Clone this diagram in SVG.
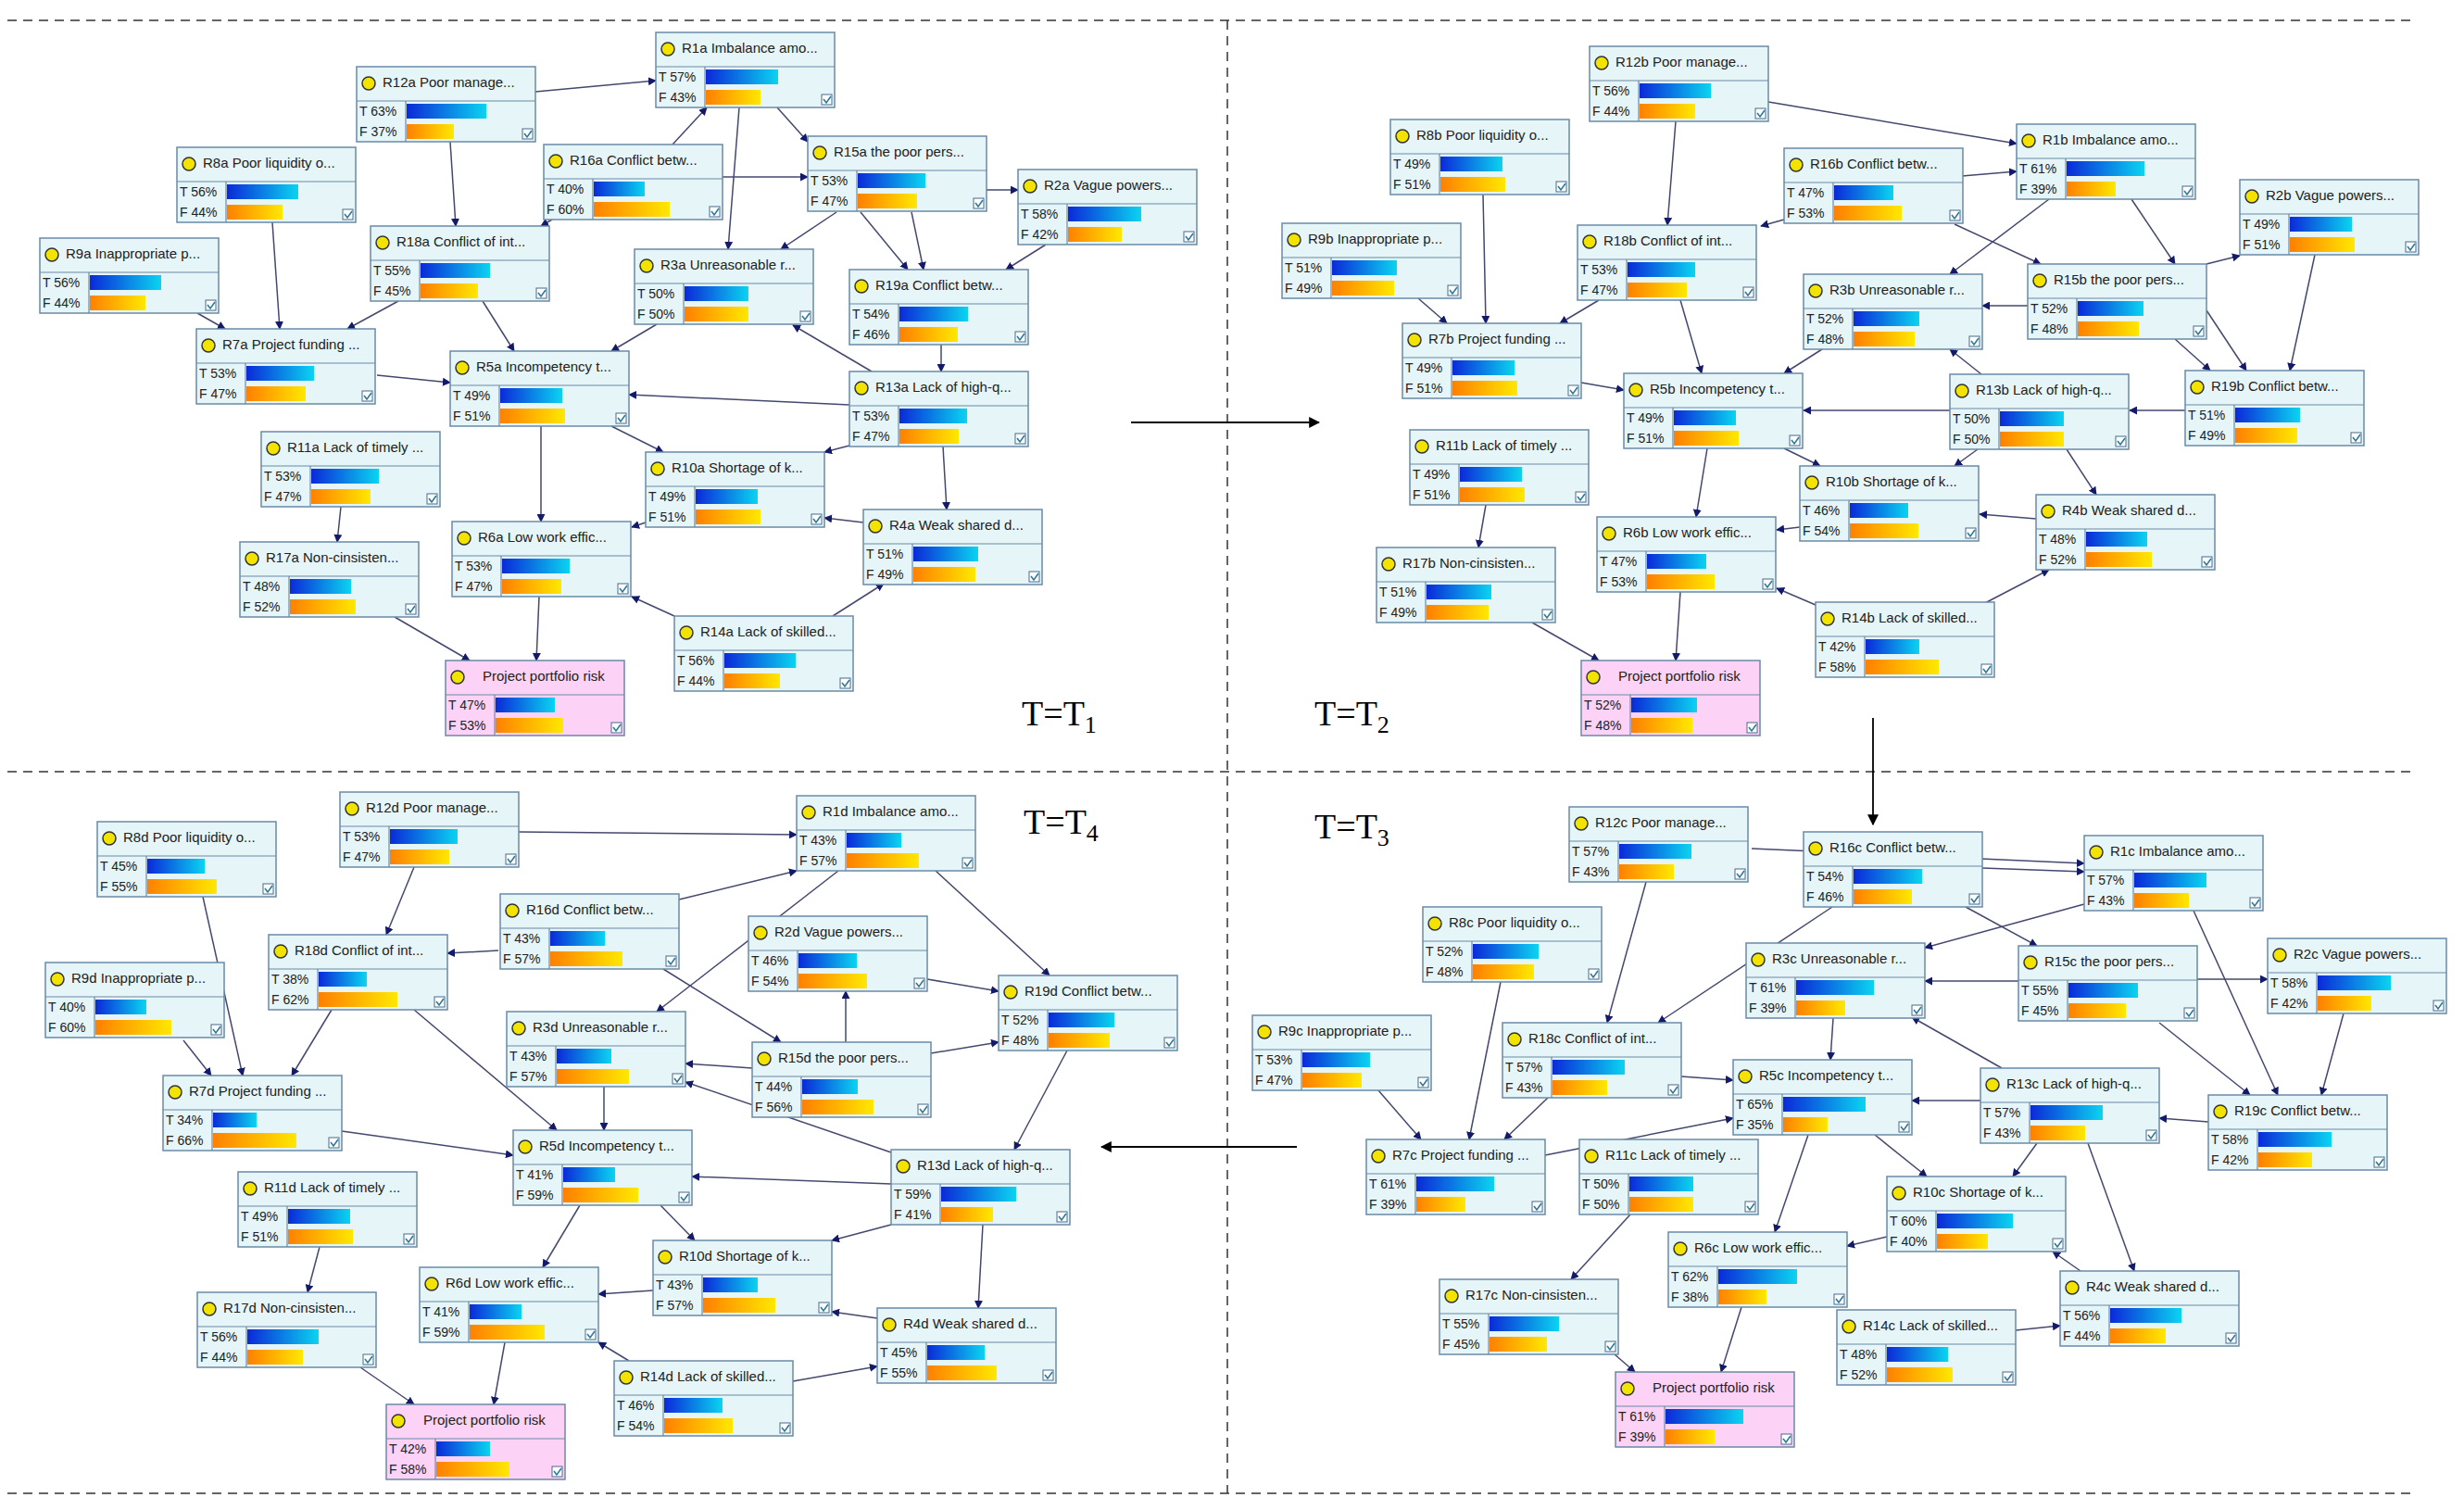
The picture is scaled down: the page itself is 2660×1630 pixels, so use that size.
<svg xmlns="http://www.w3.org/2000/svg" xmlns:xlink="http://www.w3.org/1999/xlink" width="2660" height="1630" viewBox="0 0 2660 1630">
<style>
.box{fill:#e6f5f8;stroke:#6a8aa6;stroke-width:1.5}
.pbox{fill:#fcd2f6;stroke:#6a8aa6;stroke-width:1.5}
.dv{stroke:#6a8aa6;stroke-width:1.2}
.bulb{fill:#f2e400;stroke:#333;stroke-width:1.5}
.ck{fill:#fff;stroke:#4a6a8a;stroke-width:1}
.ckm{fill:none;stroke:#2a7a9a;stroke-width:1.6}
.t{font-family:"Liberation Sans",Arial,sans-serif;font-size:15px;fill:#222}
.v{font-family:"Liberation Sans",Arial,sans-serif;font-size:14px;fill:#222}
.bt{fill:url(#gb)}
.bf{fill:url(#go)}
.e{stroke:#44486e;stroke-width:1.5;fill:none;marker-end:url(#ah)}
.big{stroke:#000;stroke-width:1.8;fill:none;marker-end:url(#ah2)}
.dash{stroke:#333;stroke-width:1.5;stroke-dasharray:10 7;fill:none}
.lab{font-family:"Liberation Serif","Times New Roman",serif;font-size:38px;fill:#000}
</style>
<defs>
<linearGradient id="gb" x1="0" y1="0" x2="1" y2="0"><stop offset="0" stop-color="#0a2ad8"/><stop offset="1" stop-color="#0ad4f0"/></linearGradient>
<linearGradient id="go" x1="0" y1="0" x2="1" y2="0"><stop offset="0" stop-color="#ff8000"/><stop offset="1" stop-color="#ffe800"/></linearGradient>
<marker id="ah" viewBox="0 0 10 10" refX="9" refY="5" markerWidth="9" markerHeight="9" markerUnits="userSpaceOnUse" orient="auto"><path d="M0 0 L10 5 L0 10 z" fill="#141a6a"/></marker>
<marker id="ah2" viewBox="0 0 10 10" refX="9" refY="5" markerWidth="12" markerHeight="12" markerUnits="userSpaceOnUse" orient="auto"><path d="M0 0 L10 5 L0 10 z" fill="#000"/></marker>
<g id="frame"><rect class="box" width="193" height="81"/><line class="dv" x1="0" y1="37" x2="193" y2="37"/><line class="dv" x1="53" y1="37" x2="53" y2="81"/><circle class="bulb" cx="13" cy="18" r="7"/><rect class="ck" x="179" y="67" width="11" height="11"/><path class="ckm" d="M181 72 l3 4 l5 -7"/></g>
<g id="pframe"><rect class="pbox" width="193" height="81"/><line class="dv" x1="0" y1="37" x2="193" y2="37"/><line class="dv" x1="53" y1="37" x2="53" y2="81"/><circle class="bulb" cx="13" cy="18" r="7"/><rect class="ck" x="179" y="67" width="11" height="11"/><path class="ckm" d="M181 72 l3 4 l5 -7"/></g>
</defs>
<rect width="2660" height="1630" fill="#fff"/>
<g id="frames">
<line class="dash" x1="8" y1="22" x2="2605" y2="22"/>
<line class="dash" x1="8" y1="833" x2="2605" y2="833"/>
<line class="dash" x1="8" y1="1612" x2="2605" y2="1612"/>
<line class="dash" x1="1325" y1="22" x2="1325" y2="1612"/>
<text class="lab" x="1103" y="783">T=T<tspan font-size="26" dy="8">1</tspan></text>
<text class="lab" x="1419" y="783">T=T<tspan font-size="26" dy="8">2</tspan></text>
<text class="lab" x="1419" y="905">T=T<tspan font-size="26" dy="8">3</tspan></text>
<text class="lab" x="1105" y="900">T=T<tspan font-size="26" dy="8">4</tspan></text>
</g>
<g id="connectors">
<line class="big" x1="1221" y1="456" x2="1424" y2="456"/>
<line class="big" x1="2022" y1="775" x2="2022" y2="890"/>
<line class="big" x1="1400" y1="1238" x2="1189" y2="1238"/>
<!-- Q1 -->
<line class="e" x1="578" y1="99" x2="708" y2="87"/>
<line class="e" x1="726" y1="156" x2="763" y2="116"/>
<line class="e" x1="798" y1="116" x2="786" y2="269"/>
<line class="e" x1="839" y1="116" x2="872" y2="153"/>
<line class="e" x1="780" y1="191" x2="872" y2="191"/>
<line class="e" x1="1065" y1="205" x2="1099" y2="205"/>
<line class="e" x1="903" y1="229" x2="843" y2="269"/>
<line class="e" x1="929" y1="229" x2="980" y2="291"/>
<line class="e" x1="984" y1="229" x2="997" y2="291"/>
<line class="e" x1="1129" y1="264" x2="1086" y2="291"/>
<line class="e" x1="486" y1="153" x2="492" y2="244"/>
<line class="e" x1="596" y1="237" x2="584" y2="244"/>
<line class="e" x1="294" y1="240" x2="302" y2="355"/>
<line class="e" x1="213" y1="338" x2="243" y2="355"/>
<line class="e" x1="430" y1="325" x2="375" y2="355"/>
<line class="e" x1="521" y1="325" x2="555" y2="379"/>
<line class="e" x1="709" y1="350" x2="660" y2="379"/>
<line class="e" x1="407" y1="405" x2="486" y2="413"/>
<line class="e" x1="1016" y1="372" x2="1016" y2="401"/>
<line class="e" x1="941" y1="401" x2="856" y2="351"/>
<line class="e" x1="917" y1="437" x2="679" y2="426"/>
<line class="e" x1="917" y1="481" x2="890" y2="488"/>
<line class="e" x1="1018" y1="482" x2="1022" y2="550"/>
<line class="e" x1="660" y1="460" x2="716" y2="488"/>
<line class="e" x1="584" y1="460" x2="584" y2="563"/>
<line class="e" x1="932" y1="564" x2="890" y2="559"/>
<line class="e" x1="697" y1="564" x2="682" y2="569"/>
<line class="e" x1="368" y1="547" x2="364" y2="585"/>
<line class="e" x1="728" y1="665" x2="682" y2="644"/>
<line class="e" x1="899" y1="665" x2="954" y2="630"/>
<line class="e" x1="582" y1="644" x2="579" y2="713"/>
<line class="e" x1="426" y1="666" x2="507" y2="713"/>
<!-- Q2 -->
<line class="e" x1="1909" y1="110" x2="2177" y2="155"/>
<line class="e" x1="1809" y1="131" x2="1800" y2="243"/>
<line class="e" x1="2118" y1="190" x2="2177" y2="185"/>
<line class="e" x1="1926" y1="237" x2="1901" y2="244"/>
<line class="e" x1="2110" y1="242" x2="2203" y2="285"/>
<line class="e" x1="2212" y1="215" x2="2105" y2="296"/>
<line class="e" x1="2301" y1="215" x2="2348" y2="285"/>
<line class="e" x1="2382" y1="285" x2="2418" y2="276"/>
<line class="e" x1="2189" y1="330" x2="2140" y2="330"/>
<line class="e" x1="2382" y1="335" x2="2425" y2="400"/>
<line class="e" x1="2348" y1="366" x2="2386" y2="400"/>
<line class="e" x1="2499" y1="275" x2="2472" y2="400"/>
<line class="e" x1="1601" y1="210" x2="1604" y2="349"/>
<line class="e" x1="1531" y1="322" x2="1562" y2="349"/>
<line class="e" x1="1726" y1="324" x2="1684" y2="349"/>
<line class="e" x1="1814" y1="324" x2="1837" y2="403"/>
<line class="e" x1="1967" y1="377" x2="1926" y2="403"/>
<line class="e" x1="1707" y1="413" x2="1753" y2="421"/>
<line class="e" x1="2139" y1="404" x2="2105" y2="377"/>
<line class="e" x1="2105" y1="443" x2="1947" y2="443"/>
<line class="e" x1="2359" y1="443" x2="2299" y2="443"/>
<line class="e" x1="2135" y1="485" x2="2110" y2="503"/>
<line class="e" x1="2231" y1="485" x2="2263" y2="534"/>
<line class="e" x1="1926" y1="484" x2="1965" y2="503"/>
<line class="e" x1="1843" y1="484" x2="1831" y2="558"/>
<line class="e" x1="2198" y1="560" x2="2137" y2="555"/>
<line class="e" x1="1943" y1="569" x2="1918" y2="572"/>
<line class="e" x1="1604" y1="545" x2="1596" y2="591"/>
<line class="e" x1="1960" y1="653" x2="1918" y2="635"/>
<line class="e" x1="2139" y1="653" x2="2212" y2="615"/>
<line class="e" x1="1814" y1="639" x2="1809" y2="713"/>
<line class="e" x1="1654" y1="672" x2="1726" y2="713"/>
<!-- Q4 (c) -->
<line class="e" x1="1891" y1="916" x2="2250" y2="932"/>
<line class="e" x1="2140" y1="937" x2="2250" y2="941"/>
<line class="e" x1="1777" y1="952" x2="1735" y2="1104"/>
<line class="e" x1="1978" y1="979" x2="1790" y2="1104"/>
<line class="e" x1="2122" y1="979" x2="2199" y2="1021"/>
<line class="e" x1="2250" y1="976" x2="2078" y2="1023"/>
<line class="e" x1="2368" y1="983" x2="2459" y2="1182"/>
<line class="e" x1="2179" y1="1059" x2="2078" y2="1059"/>
<line class="e" x1="2372" y1="1057" x2="2448" y2="1057"/>
<line class="e" x1="2331" y1="1104" x2="2429" y2="1182"/>
<line class="e" x1="2530" y1="1094" x2="2506" y2="1182"/>
<line class="e" x1="1620" y1="1060" x2="1586" y2="1230"/>
<line class="e" x1="1488" y1="1177" x2="1534" y2="1230"/>
<line class="e" x1="1671" y1="1185" x2="1624" y2="1230"/>
<line class="e" x1="1815" y1="1162" x2="1871" y2="1166"/>
<line class="e" x1="1979" y1="1099" x2="1976" y2="1144"/>
<line class="e" x1="1668" y1="1247" x2="1871" y2="1207"/>
<line class="e" x1="2161" y1="1153" x2="2064" y2="1098"/>
<line class="e" x1="2138" y1="1188" x2="2064" y2="1188"/>
<line class="e" x1="2384" y1="1211" x2="2331" y2="1207"/>
<line class="e" x1="2199" y1="1234" x2="2173" y2="1270"/>
<line class="e" x1="2254" y1="1234" x2="2304" y2="1372"/>
<line class="e" x1="2024" y1="1225" x2="2080" y2="1270"/>
<line class="e" x1="1952" y1="1225" x2="1916" y2="1330"/>
<line class="e" x1="2037" y1="1335" x2="1994" y2="1345"/>
<line class="e" x1="2246" y1="1372" x2="2216" y2="1351"/>
<line class="e" x1="2176" y1="1436" x2="2224" y2="1431"/>
<line class="e" x1="1760" y1="1311" x2="1696" y2="1381"/>
<line class="e" x1="1880" y1="1411" x2="1858" y2="1481"/>
<line class="e" x1="1743" y1="1462" x2="1765" y2="1481"/>
<!-- Q3 (d) -->
<line class="e" x1="560" y1="898" x2="860" y2="901"/>
<line class="e" x1="447" y1="936" x2="417" y2="1009"/>
<line class="e" x1="733" y1="971" x2="860" y2="940"/>
<line class="e" x1="538" y1="1026" x2="483" y2="1029"/>
<line class="e" x1="905" y1="940" x2="709" y2="1092"/>
<line class="e" x1="1010" y1="940" x2="1133" y2="1053"/>
<line class="e" x1="1001" y1="1057" x2="1078" y2="1070"/>
<line class="e" x1="913" y1="1125" x2="913" y2="1070"/>
<line class="e" x1="1005" y1="1137" x2="1078" y2="1125"/>
<line class="e" x1="716" y1="1046" x2="843" y2="1125"/>
<line class="e" x1="812" y1="1153" x2="740" y2="1148"/>
<line class="e" x1="962" y1="1244" x2="740" y2="1168"/>
<line class="e" x1="1152" y1="1134" x2="1095" y2="1241"/>
<line class="e" x1="198" y1="1123" x2="228" y2="1161"/>
<line class="e" x1="219" y1="968" x2="262" y2="1161"/>
<line class="e" x1="358" y1="1090" x2="315" y2="1161"/>
<line class="e" x1="447" y1="1090" x2="601" y2="1220"/>
<line class="e" x1="652" y1="1173" x2="652" y2="1220"/>
<line class="e" x1="369" y1="1221" x2="554" y2="1247"/>
<line class="e" x1="962" y1="1278" x2="747" y2="1270"/>
<line class="e" x1="962" y1="1322" x2="898" y2="1339"/>
<line class="e" x1="1061" y1="1322" x2="1056" y2="1412"/>
<line class="e" x1="713" y1="1301" x2="750" y2="1339"/>
<line class="e" x1="626" y1="1301" x2="586" y2="1368"/>
<line class="e" x1="705" y1="1393" x2="646" y2="1397"/>
<line class="e" x1="947" y1="1423" x2="898" y2="1416"/>
<line class="e" x1="679" y1="1469" x2="646" y2="1449"/>
<line class="e" x1="856" y1="1491" x2="947" y2="1475"/>
<line class="e" x1="345" y1="1346" x2="332" y2="1395"/>
<line class="e" x1="545" y1="1449" x2="533" y2="1516"/>
<line class="e" x1="389" y1="1476" x2="447" y2="1516"/>
</g>
<!-- Q1 nodes -->
<g id="R1a" transform="translate(708,35)"><use href="#frame"/><text class="t" x="28" y="22">R1a Imbalance amo...</text><text class="v" x="3" y="53">T 57%</text><text class="v" x="3" y="75">F 43%</text><rect class="bt" x="54" y="40" width="78" height="16"/><rect class="bf" x="54" y="62" width="59" height="16"/></g>
<g id="R12a" transform="translate(385,72)"><use href="#frame"/><text class="t" x="28" y="22">R12a Poor manage...</text><text class="v" x="3" y="53">T 63%</text><text class="v" x="3" y="75">F 37%</text><rect class="bt" x="54" y="40" width="86" height="16"/><rect class="bf" x="54" y="62" width="51" height="16"/></g>
<g id="R8a" transform="translate(191,159)"><use href="#frame"/><text class="t" x="28" y="22">R8a Poor  liquidity o...</text><text class="v" x="3" y="53">T 56%</text><text class="v" x="3" y="75">F 44%</text><rect class="bt" x="54" y="40" width="77" height="16"/><rect class="bf" x="54" y="62" width="60" height="16"/></g>
<g id="R16a" transform="translate(587,156)"><use href="#frame"/><text class="t" x="28" y="22">R16a Conflict betw...</text><text class="v" x="3" y="53">T 40%</text><text class="v" x="3" y="75">F 60%</text><rect class="bt" x="54" y="40" width="55" height="16"/><rect class="bf" x="54" y="62" width="82" height="16"/></g>
<g id="R15a" transform="translate(872,147)"><use href="#frame"/><text class="t" x="28" y="22">R15a the poor pers...</text><text class="v" x="3" y="53">T 53%</text><text class="v" x="3" y="75">F 47%</text><rect class="bt" x="54" y="40" width="73" height="16"/><rect class="bf" x="54" y="62" width="64" height="16"/></g>
<g id="R2a" transform="translate(1099,183)"><use href="#frame"/><text class="t" x="28" y="22">R2a Vague powers...</text><text class="v" x="3" y="53">T 58%</text><text class="v" x="3" y="75">F 42%</text><rect class="bt" x="54" y="40" width="79" height="16"/><rect class="bf" x="54" y="62" width="58" height="16"/></g>
<g id="R9a" transform="translate(43,257)"><use href="#frame"/><text class="t" x="28" y="22">R9a Inappropriate p...</text><text class="v" x="3" y="53">T 56%</text><text class="v" x="3" y="75">F 44%</text><rect class="bt" x="54" y="40" width="77" height="16"/><rect class="bf" x="54" y="62" width="60" height="16"/></g>
<g id="R18a" transform="translate(400,244)"><use href="#frame"/><text class="t" x="28" y="22">R18a Conflict of  int...</text><text class="v" x="3" y="53">T 55%</text><text class="v" x="3" y="75">F 45%</text><rect class="bt" x="54" y="40" width="75" height="16"/><rect class="bf" x="54" y="62" width="62" height="16"/></g>
<g id="R3a" transform="translate(685,269)"><use href="#frame"/><text class="t" x="28" y="22">R3a Unreasonable r...</text><text class="v" x="3" y="53">T 50%</text><text class="v" x="3" y="75">F 50%</text><rect class="bt" x="54" y="40" width="69" height="16"/><rect class="bf" x="54" y="62" width="69" height="16"/></g>
<g id="R19a" transform="translate(917,291)"><use href="#frame"/><text class="t" x="28" y="22">R19a Conflict betw...</text><text class="v" x="3" y="53">T 54%</text><text class="v" x="3" y="75">F 46%</text><rect class="bt" x="54" y="40" width="74" height="16"/><rect class="bf" x="54" y="62" width="63" height="16"/></g>
<g id="R7a" transform="translate(212,355)"><use href="#frame"/><text class="t" x="28" y="22">R7a Project funding ...</text><text class="v" x="3" y="53">T 53%</text><text class="v" x="3" y="75">F 47%</text><rect class="bt" x="54" y="40" width="73" height="16"/><rect class="bf" x="54" y="62" width="64" height="16"/></g>
<g id="R5a" transform="translate(486,379)"><use href="#frame"/><text class="t" x="28" y="22">R5a Incompetency t...</text><text class="v" x="3" y="53">T 49%</text><text class="v" x="3" y="75">F 51%</text><rect class="bt" x="54" y="40" width="67" height="16"/><rect class="bf" x="54" y="62" width="70" height="16"/></g>
<g id="R13a" transform="translate(917,401)"><use href="#frame"/><text class="t" x="28" y="22">R13a Lack of high-q...</text><text class="v" x="3" y="53">T 53%</text><text class="v" x="3" y="75">F 47%</text><rect class="bt" x="54" y="40" width="73" height="16"/><rect class="bf" x="54" y="62" width="64" height="16"/></g>
<g id="R11a" transform="translate(282,466)"><use href="#frame"/><text class="t" x="28" y="22">R11a Lack of timely ...</text><text class="v" x="3" y="53">T 53%</text><text class="v" x="3" y="75">F 47%</text><rect class="bt" x="54" y="40" width="73" height="16"/><rect class="bf" x="54" y="62" width="64" height="16"/></g>
<g id="R10a" transform="translate(697,488)"><use href="#frame"/><text class="t" x="28" y="22">R10a Shortage of k...</text><text class="v" x="3" y="53">T 49%</text><text class="v" x="3" y="75">F 51%</text><rect class="bt" x="54" y="40" width="67" height="16"/><rect class="bf" x="54" y="62" width="70" height="16"/></g>
<g id="R6a" transform="translate(488,563)"><use href="#frame"/><text class="t" x="28" y="22">R6a Low work effic...</text><text class="v" x="3" y="53">T 53%</text><text class="v" x="3" y="75">F 47%</text><rect class="bt" x="54" y="40" width="73" height="16"/><rect class="bf" x="54" y="62" width="64" height="16"/></g>
<g id="R4a" transform="translate(932,550)"><use href="#frame"/><text class="t" x="28" y="22">R4a Weak shared d...</text><text class="v" x="3" y="53">T 51%</text><text class="v" x="3" y="75">F 49%</text><rect class="bt" x="54" y="40" width="70" height="16"/><rect class="bf" x="54" y="62" width="67" height="16"/></g>
<g id="R17a" transform="translate(259,585)"><use href="#frame"/><text class="t" x="28" y="22">R17a Non-cinsisten...</text><text class="v" x="3" y="53">T 48%</text><text class="v" x="3" y="75">F 52%</text><rect class="bt" x="54" y="40" width="66" height="16"/><rect class="bf" x="54" y="62" width="71" height="16"/></g>
<g id="R14a" transform="translate(728,665)"><use href="#frame"/><text class="t" x="28" y="22">R14a Lack of skilled...</text><text class="v" x="3" y="53">T 56%</text><text class="v" x="3" y="75">F 44%</text><rect class="bt" x="54" y="40" width="77" height="16"/><rect class="bf" x="54" y="62" width="60" height="16"/></g>
<g id="PPRa" transform="translate(481,713)"><use href="#pframe"/><text class="t" x="40" y="22">Project portfolio risk</text><text class="v" x="3" y="53">T 47%</text><text class="v" x="3" y="75">F 53%</text><rect class="bt" x="54" y="40" width="64" height="16"/><rect class="bf" x="54" y="62" width="73" height="16"/></g>
<!-- Q2 nodes -->
<g id="R12b" transform="translate(1716,50)"><use href="#frame"/><text class="t" x="28" y="22">R12b Poor manage...</text><text class="v" x="3" y="53">T 56%</text><text class="v" x="3" y="75">F 44%</text><rect class="bt" x="54" y="40" width="77" height="16"/><rect class="bf" x="54" y="62" width="60" height="16"/></g>
<g id="R8b" transform="translate(1501,129)"><use href="#frame"/><text class="t" x="28" y="22">R8b Poor  liquidity o...</text><text class="v" x="3" y="53">T 49%</text><text class="v" x="3" y="75">F 51%</text><rect class="bt" x="54" y="40" width="67" height="16"/><rect class="bf" x="54" y="62" width="70" height="16"/></g>
<g id="R1b" transform="translate(2177,134)"><use href="#frame"/><text class="t" x="28" y="22">R1b Imbalance amo...</text><text class="v" x="3" y="53">T 61%</text><text class="v" x="3" y="75">F 39%</text><rect class="bt" x="54" y="40" width="84" height="16"/><rect class="bf" x="54" y="62" width="53" height="16"/></g>
<g id="R16b" transform="translate(1926,160)"><use href="#frame"/><text class="t" x="28" y="22">R16b Conflict betw...</text><text class="v" x="3" y="53">T 47%</text><text class="v" x="3" y="75">F 53%</text><rect class="bt" x="54" y="40" width="64" height="16"/><rect class="bf" x="54" y="62" width="73" height="16"/></g>
<g id="R2b" transform="translate(2418,194)"><use href="#frame"/><text class="t" x="28" y="22">R2b Vague powers...</text><text class="v" x="3" y="53">T 49%</text><text class="v" x="3" y="75">F 51%</text><rect class="bt" x="54" y="40" width="67" height="16"/><rect class="bf" x="54" y="62" width="70" height="16"/></g>
<g id="R9b" transform="translate(1384,241)"><use href="#frame"/><text class="t" x="28" y="22">R9b Inappropriate p...</text><text class="v" x="3" y="53">T 51%</text><text class="v" x="3" y="75">F 49%</text><rect class="bt" x="54" y="40" width="70" height="16"/><rect class="bf" x="54" y="62" width="67" height="16"/></g>
<g id="R18b" transform="translate(1703,243)"><use href="#frame"/><text class="t" x="28" y="22">R18b Conflict of  int...</text><text class="v" x="3" y="53">T 53%</text><text class="v" x="3" y="75">F 47%</text><rect class="bt" x="54" y="40" width="73" height="16"/><rect class="bf" x="54" y="62" width="64" height="16"/></g>
<g id="R3b" transform="translate(1947,296)"><use href="#frame"/><text class="t" x="28" y="22">R3b Unreasonable r...</text><text class="v" x="3" y="53">T 52%</text><text class="v" x="3" y="75">F 48%</text><rect class="bt" x="54" y="40" width="71" height="16"/><rect class="bf" x="54" y="62" width="66" height="16"/></g>
<g id="R15b" transform="translate(2189,285)"><use href="#frame"/><text class="t" x="28" y="22">R15b the poor pers...</text><text class="v" x="3" y="53">T 52%</text><text class="v" x="3" y="75">F 48%</text><rect class="bt" x="54" y="40" width="71" height="16"/><rect class="bf" x="54" y="62" width="66" height="16"/></g>
<g id="R7b" transform="translate(1514,349)"><use href="#frame"/><text class="t" x="28" y="22">R7b Project funding ...</text><text class="v" x="3" y="53">T 49%</text><text class="v" x="3" y="75">F 51%</text><rect class="bt" x="54" y="40" width="67" height="16"/><rect class="bf" x="54" y="62" width="70" height="16"/></g>
<g id="R5b" transform="translate(1753,403)"><use href="#frame"/><text class="t" x="28" y="22">R5b Incompetency t...</text><text class="v" x="3" y="53">T 49%</text><text class="v" x="3" y="75">F 51%</text><rect class="bt" x="54" y="40" width="67" height="16"/><rect class="bf" x="54" y="62" width="70" height="16"/></g>
<g id="R13b" transform="translate(2105,404)"><use href="#frame"/><text class="t" x="28" y="22">R13b Lack of high-q...</text><text class="v" x="3" y="53">T 50%</text><text class="v" x="3" y="75">F 50%</text><rect class="bt" x="54" y="40" width="69" height="16"/><rect class="bf" x="54" y="62" width="69" height="16"/></g>
<g id="R19b" transform="translate(2359,400)"><use href="#frame"/><text class="t" x="28" y="22">R19b Conflict betw...</text><text class="v" x="3" y="53">T 51%</text><text class="v" x="3" y="75">F 49%</text><rect class="bt" x="54" y="40" width="70" height="16"/><rect class="bf" x="54" y="62" width="67" height="16"/></g>
<g id="R11b" transform="translate(1522,464)"><use href="#frame"/><text class="t" x="28" y="22">R11b Lack of timely ...</text><text class="v" x="3" y="53">T 49%</text><text class="v" x="3" y="75">F 51%</text><rect class="bt" x="54" y="40" width="67" height="16"/><rect class="bf" x="54" y="62" width="70" height="16"/></g>
<g id="R10b" transform="translate(1943,503)"><use href="#frame"/><text class="t" x="28" y="22">R10b Shortage of k...</text><text class="v" x="3" y="53">T 46%</text><text class="v" x="3" y="75">F 54%</text><rect class="bt" x="54" y="40" width="63" height="16"/><rect class="bf" x="54" y="62" width="74" height="16"/></g>
<g id="R4b" transform="translate(2198,534)"><use href="#frame"/><text class="t" x="28" y="22">R4b Weak shared d...</text><text class="v" x="3" y="53">T 48%</text><text class="v" x="3" y="75">F 52%</text><rect class="bt" x="54" y="40" width="66" height="16"/><rect class="bf" x="54" y="62" width="71" height="16"/></g>
<g id="R6b" transform="translate(1724,558)"><use href="#frame"/><text class="t" x="28" y="22">R6b Low work effic...</text><text class="v" x="3" y="53">T 47%</text><text class="v" x="3" y="75">F 53%</text><rect class="bt" x="54" y="40" width="64" height="16"/><rect class="bf" x="54" y="62" width="73" height="16"/></g>
<g id="R17b" transform="translate(1486,591)"><use href="#frame"/><text class="t" x="28" y="22">R17b Non-cinsisten...</text><text class="v" x="3" y="53">T 51%</text><text class="v" x="3" y="75">F 49%</text><rect class="bt" x="54" y="40" width="70" height="16"/><rect class="bf" x="54" y="62" width="67" height="16"/></g>
<g id="R14b" transform="translate(1960,650)"><use href="#frame"/><text class="t" x="28" y="22">R14b Lack of skilled...</text><text class="v" x="3" y="53">T 42%</text><text class="v" x="3" y="75">F 58%</text><rect class="bt" x="54" y="40" width="58" height="16"/><rect class="bf" x="54" y="62" width="79" height="16"/></g>
<g id="PPRb" transform="translate(1707,713)"><use href="#pframe"/><text class="t" x="40" y="22">Project portfolio risk</text><text class="v" x="3" y="53">T 52%</text><text class="v" x="3" y="75">F 48%</text><rect class="bt" x="54" y="40" width="71" height="16"/><rect class="bf" x="54" y="62" width="66" height="16"/></g>
<!-- Q3 nodes (c) -->
<g id="R12c" transform="translate(1694,871)"><use href="#frame"/><text class="t" x="28" y="22">R12c Poor manage...</text><text class="v" x="3" y="53">T 57%</text><text class="v" x="3" y="75">F 43%</text><rect class="bt" x="54" y="40" width="78" height="16"/><rect class="bf" x="54" y="62" width="59" height="16"/></g>
<g id="R16c" transform="translate(1947,898)"><use href="#frame"/><text class="t" x="28" y="22">R16c Conflict betw...</text><text class="v" x="3" y="53">T 54%</text><text class="v" x="3" y="75">F 46%</text><rect class="bt" x="54" y="40" width="74" height="16"/><rect class="bf" x="54" y="62" width="63" height="16"/></g>
<g id="R1c" transform="translate(2250,902)"><use href="#frame"/><text class="t" x="28" y="22">R1c Imbalance amo...</text><text class="v" x="3" y="53">T 57%</text><text class="v" x="3" y="75">F 43%</text><rect class="bt" x="54" y="40" width="78" height="16"/><rect class="bf" x="54" y="62" width="59" height="16"/></g>
<g id="R8c" transform="translate(1536,979)"><use href="#frame"/><text class="t" x="28" y="22">R8c Poor  liquidity o...</text><text class="v" x="3" y="53">T 52%</text><text class="v" x="3" y="75">F 48%</text><rect class="bt" x="54" y="40" width="71" height="16"/><rect class="bf" x="54" y="62" width="66" height="16"/></g>
<g id="R3c" transform="translate(1885,1018)"><use href="#frame"/><text class="t" x="28" y="22">R3c Unreasonable r...</text><text class="v" x="3" y="53">T 61%</text><text class="v" x="3" y="75">F 39%</text><rect class="bt" x="54" y="40" width="84" height="16"/><rect class="bf" x="54" y="62" width="53" height="16"/></g>
<g id="R15c" transform="translate(2179,1021)"><use href="#frame"/><text class="t" x="28" y="22">R15c the poor pers...</text><text class="v" x="3" y="53">T 55%</text><text class="v" x="3" y="75">F 45%</text><rect class="bt" x="54" y="40" width="75" height="16"/><rect class="bf" x="54" y="62" width="62" height="16"/></g>
<g id="R2c" transform="translate(2448,1013)"><use href="#frame"/><text class="t" x="28" y="22">R2c Vague powers...</text><text class="v" x="3" y="53">T 58%</text><text class="v" x="3" y="75">F 42%</text><rect class="bt" x="54" y="40" width="79" height="16"/><rect class="bf" x="54" y="62" width="58" height="16"/></g>
<g id="R9c" transform="translate(1352,1096)"><use href="#frame"/><text class="t" x="28" y="22">R9c Inappropriate p...</text><text class="v" x="3" y="53">T 53%</text><text class="v" x="3" y="75">F 47%</text><rect class="bt" x="54" y="40" width="73" height="16"/><rect class="bf" x="54" y="62" width="64" height="16"/></g>
<g id="R18c" transform="translate(1622,1104)"><use href="#frame"/><text class="t" x="28" y="22">R18c Conflict of  int...</text><text class="v" x="3" y="53">T 57%</text><text class="v" x="3" y="75">F 43%</text><rect class="bt" x="54" y="40" width="78" height="16"/><rect class="bf" x="54" y="62" width="59" height="16"/></g>
<g id="R5c" transform="translate(1871,1144)"><use href="#frame"/><text class="t" x="28" y="22">R5c Incompetency t...</text><text class="v" x="3" y="53">T 65%</text><text class="v" x="3" y="75">F 35%</text><rect class="bt" x="54" y="40" width="89" height="16"/><rect class="bf" x="54" y="62" width="48" height="16"/></g>
<g id="R13c" transform="translate(2138,1153)"><use href="#frame"/><text class="t" x="28" y="22">R13c Lack of high-q...</text><text class="v" x="3" y="53">T 57%</text><text class="v" x="3" y="75">F 43%</text><rect class="bt" x="54" y="40" width="78" height="16"/><rect class="bf" x="54" y="62" width="59" height="16"/></g>
<g id="R19c" transform="translate(2384,1182)"><use href="#frame"/><text class="t" x="28" y="22">R19c Conflict betw...</text><text class="v" x="3" y="53">T 58%</text><text class="v" x="3" y="75">F 42%</text><rect class="bt" x="54" y="40" width="79" height="16"/><rect class="bf" x="54" y="62" width="58" height="16"/></g>
<g id="R7c" transform="translate(1475,1230)"><use href="#frame"/><text class="t" x="28" y="22">R7c Project funding ...</text><text class="v" x="3" y="53">T 61%</text><text class="v" x="3" y="75">F 39%</text><rect class="bt" x="54" y="40" width="84" height="16"/><rect class="bf" x="54" y="62" width="53" height="16"/></g>
<g id="R11c" transform="translate(1705,1230)"><use href="#frame"/><text class="t" x="28" y="22">R11c Lack of timely ...</text><text class="v" x="3" y="53">T 50%</text><text class="v" x="3" y="75">F 50%</text><rect class="bt" x="54" y="40" width="69" height="16"/><rect class="bf" x="54" y="62" width="69" height="16"/></g>
<g id="R10c" transform="translate(2037,1270)"><use href="#frame"/><text class="t" x="28" y="22">R10c Shortage of k...</text><text class="v" x="3" y="53">T 60%</text><text class="v" x="3" y="75">F 40%</text><rect class="bt" x="54" y="40" width="82" height="16"/><rect class="bf" x="54" y="62" width="55" height="16"/></g>
<g id="R6c" transform="translate(1801,1330)"><use href="#frame"/><text class="t" x="28" y="22">R6c Low work effic...</text><text class="v" x="3" y="53">T 62%</text><text class="v" x="3" y="75">F 38%</text><rect class="bt" x="54" y="40" width="85" height="16"/><rect class="bf" x="54" y="62" width="52" height="16"/></g>
<g id="R4c" transform="translate(2224,1372)"><use href="#frame"/><text class="t" x="28" y="22">R4c Weak shared d...</text><text class="v" x="3" y="53">T 56%</text><text class="v" x="3" y="75">F 44%</text><rect class="bt" x="54" y="40" width="77" height="16"/><rect class="bf" x="54" y="62" width="60" height="16"/></g>
<g id="R17c" transform="translate(1554,1381)"><use href="#frame"/><text class="t" x="28" y="22">R17c Non-cinsisten...</text><text class="v" x="3" y="53">T 55%</text><text class="v" x="3" y="75">F 45%</text><rect class="bt" x="54" y="40" width="75" height="16"/><rect class="bf" x="54" y="62" width="62" height="16"/></g>
<g id="R14c" transform="translate(1983,1414)"><use href="#frame"/><text class="t" x="28" y="22">R14c Lack of skilled...</text><text class="v" x="3" y="53">T 48%</text><text class="v" x="3" y="75">F 52%</text><rect class="bt" x="54" y="40" width="66" height="16"/><rect class="bf" x="54" y="62" width="71" height="16"/></g>
<g id="PPRc" transform="translate(1744,1481)"><use href="#pframe"/><text class="t" x="40" y="22">Project portfolio risk</text><text class="v" x="3" y="53">T 61%</text><text class="v" x="3" y="75">F 39%</text><rect class="bt" x="54" y="40" width="84" height="16"/><rect class="bf" x="54" y="62" width="53" height="16"/></g>
<!-- Q4 nodes (d) -->
<g id="R12d" transform="translate(367,855)"><use href="#frame"/><text class="t" x="28" y="22">R12d Poor manage...</text><text class="v" x="3" y="53">T 53%</text><text class="v" x="3" y="75">F 47%</text><rect class="bt" x="54" y="40" width="73" height="16"/><rect class="bf" x="54" y="62" width="64" height="16"/></g>
<g id="R1d" transform="translate(860,859)"><use href="#frame"/><text class="t" x="28" y="22">R1d Imbalance amo...</text><text class="v" x="3" y="53">T 43%</text><text class="v" x="3" y="75">F 57%</text><rect class="bt" x="54" y="40" width="59" height="16"/><rect class="bf" x="54" y="62" width="78" height="16"/></g>
<g id="R8d" transform="translate(105,887)"><use href="#frame"/><text class="t" x="28" y="22">R8d Poor  liquidity o...</text><text class="v" x="3" y="53">T 45%</text><text class="v" x="3" y="75">F 55%</text><rect class="bt" x="54" y="40" width="62" height="16"/><rect class="bf" x="54" y="62" width="75" height="16"/></g>
<g id="R16d" transform="translate(540,965)"><use href="#frame"/><text class="t" x="28" y="22">R16d Conflict betw...</text><text class="v" x="3" y="53">T 43%</text><text class="v" x="3" y="75">F 57%</text><rect class="bt" x="54" y="40" width="59" height="16"/><rect class="bf" x="54" y="62" width="78" height="16"/></g>
<g id="R2d" transform="translate(808,989)"><use href="#frame"/><text class="t" x="28" y="22">R2d Vague powers...</text><text class="v" x="3" y="53">T 46%</text><text class="v" x="3" y="75">F 54%</text><rect class="bt" x="54" y="40" width="63" height="16"/><rect class="bf" x="54" y="62" width="74" height="16"/></g>
<g id="R18d" transform="translate(290,1009)"><use href="#frame"/><text class="t" x="28" y="22">R18d Conflict of  int...</text><text class="v" x="3" y="53">T 38%</text><text class="v" x="3" y="75">F 62%</text><rect class="bt" x="54" y="40" width="52" height="16"/><rect class="bf" x="54" y="62" width="85" height="16"/></g>
<g id="R9d" transform="translate(49,1039)"><use href="#frame"/><text class="t" x="28" y="22">R9d Inappropriate p...</text><text class="v" x="3" y="53">T 40%</text><text class="v" x="3" y="75">F 60%</text><rect class="bt" x="54" y="40" width="55" height="16"/><rect class="bf" x="54" y="62" width="82" height="16"/></g>
<g id="R19d" transform="translate(1078,1053)"><use href="#frame"/><text class="t" x="28" y="22">R19d Conflict betw...</text><text class="v" x="3" y="53">T 52%</text><text class="v" x="3" y="75">F 48%</text><rect class="bt" x="54" y="40" width="71" height="16"/><rect class="bf" x="54" y="62" width="66" height="16"/></g>
<g id="R3d" transform="translate(547,1092)"><use href="#frame"/><text class="t" x="28" y="22">R3d Unreasonable r...</text><text class="v" x="3" y="53">T 43%</text><text class="v" x="3" y="75">F 57%</text><rect class="bt" x="54" y="40" width="59" height="16"/><rect class="bf" x="54" y="62" width="78" height="16"/></g>
<g id="R15d" transform="translate(812,1125)"><use href="#frame"/><text class="t" x="28" y="22">R15d the poor pers...</text><text class="v" x="3" y="53">T 44%</text><text class="v" x="3" y="75">F 56%</text><rect class="bt" x="54" y="40" width="60" height="16"/><rect class="bf" x="54" y="62" width="77" height="16"/></g>
<g id="R7d" transform="translate(176,1161)"><use href="#frame"/><text class="t" x="28" y="22">R7d Project funding ...</text><text class="v" x="3" y="53">T 34%</text><text class="v" x="3" y="75">F 66%</text><rect class="bt" x="54" y="40" width="47" height="16"/><rect class="bf" x="54" y="62" width="90" height="16"/></g>
<g id="R5d" transform="translate(554,1220)"><use href="#frame"/><text class="t" x="28" y="22">R5d Incompetency t...</text><text class="v" x="3" y="53">T 41%</text><text class="v" x="3" y="75">F 59%</text><rect class="bt" x="54" y="40" width="56" height="16"/><rect class="bf" x="54" y="62" width="81" height="16"/></g>
<g id="R13d" transform="translate(962,1241)"><use href="#frame"/><text class="t" x="28" y="22">R13d Lack of high-q...</text><text class="v" x="3" y="53">T 59%</text><text class="v" x="3" y="75">F 41%</text><rect class="bt" x="54" y="40" width="81" height="16"/><rect class="bf" x="54" y="62" width="56" height="16"/></g>
<g id="R11d" transform="translate(257,1265)"><use href="#frame"/><text class="t" x="28" y="22">R11d Lack of timely ...</text><text class="v" x="3" y="53">T 49%</text><text class="v" x="3" y="75">F 51%</text><rect class="bt" x="54" y="40" width="67" height="16"/><rect class="bf" x="54" y="62" width="70" height="16"/></g>
<g id="R10d" transform="translate(705,1339)"><use href="#frame"/><text class="t" x="28" y="22">R10d Shortage of k...</text><text class="v" x="3" y="53">T 43%</text><text class="v" x="3" y="75">F 57%</text><rect class="bt" x="54" y="40" width="59" height="16"/><rect class="bf" x="54" y="62" width="78" height="16"/></g>
<g id="R4d" transform="translate(947,1412)"><use href="#frame"/><text class="t" x="28" y="22">R4d Weak shared d...</text><text class="v" x="3" y="53">T 45%</text><text class="v" x="3" y="75">F 55%</text><rect class="bt" x="54" y="40" width="62" height="16"/><rect class="bf" x="54" y="62" width="75" height="16"/></g>
<g id="R6d" transform="translate(453,1368)"><use href="#frame"/><text class="t" x="28" y="22">R6d Low work effic...</text><text class="v" x="3" y="53">T 41%</text><text class="v" x="3" y="75">F 59%</text><rect class="bt" x="54" y="40" width="56" height="16"/><rect class="bf" x="54" y="62" width="81" height="16"/></g>
<g id="R17d" transform="translate(213,1395)"><use href="#frame"/><text class="t" x="28" y="22">R17d Non-cinsisten...</text><text class="v" x="3" y="53">T 56%</text><text class="v" x="3" y="75">F 44%</text><rect class="bt" x="54" y="40" width="77" height="16"/><rect class="bf" x="54" y="62" width="60" height="16"/></g>
<g id="R14d" transform="translate(663,1469)"><use href="#frame"/><text class="t" x="28" y="22">R14d Lack of skilled...</text><text class="v" x="3" y="53">T 46%</text><text class="v" x="3" y="75">F 54%</text><rect class="bt" x="54" y="40" width="63" height="16"/><rect class="bf" x="54" y="62" width="74" height="16"/></g>
<g id="PPRd" transform="translate(417,1516)"><use href="#pframe"/><text class="t" x="40" y="22">Project portfolio risk</text><text class="v" x="3" y="53">T 42%</text><text class="v" x="3" y="75">F 58%</text><rect class="bt" x="54" y="40" width="58" height="16"/><rect class="bf" x="54" y="62" width="79" height="16"/></g>
</svg>
